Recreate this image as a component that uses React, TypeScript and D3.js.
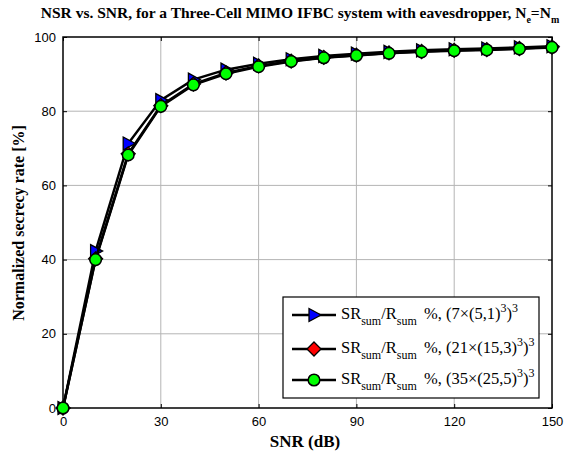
import React, { useRef, useEffect } from 'react';
import * as d3 from 'd3';

// SNR values (dB)
const snr = [0, 10, 20, 30, 40, 50, 60, 70, 80, 90, 100, 110, 120, 130, 140, 150];

// Normalized secrecy rate [%] for each configuration
const series7 = [0, 42.3, 71.3, 83.0, 88.5, 91.2, 92.8, 94.0, 94.9, 95.5, 96.0, 96.4, 96.7, 96.9, 97.2, 97.5];
const series21 = [0, 40.2, 68.5, 81.5, 87.3, 90.3, 92.2, 93.5, 94.5, 95.1, 95.7, 96.1, 96.4, 96.6, 96.9, 97.3];
const series35 = [0, 40.0, 68.2, 81.3, 87.1, 90.1, 92.0, 93.4, 94.4, 95.0, 95.6, 96.0, 96.3, 96.5, 96.8, 97.2];

const xTicks = [0, 30, 60, 90, 120, 150];
const yTicks = [0, 20, 40, 60, 80, 100];

const legendLabels = [
  { k: '7', a: '5,1' },
  { k: '21', a: '15,3' },
  { k: '35', a: '25,5' },
];

const serif = '"Liberation Serif", "Times New Roman", serif';

const App = () => {
  const svgRef = useRef<SVGSVGElement>(null);

  useEffect(() => {
    const W = 573, H = 452;
    const margin = { top: 37, right: 21, bottom: 44, left: 63 };
    const width = W - margin.left - margin.right;
    const height = H - margin.top - margin.bottom;

    const root = d3.select(svgRef.current);
    root.selectAll('*').remove();
    root.attr('width', W).attr('height', H);

    root.append('rect').attr('width', W).attr('height', H).attr('fill', '#fff');

    const svg = root.append('g').attr('transform', `translate(${margin.left},${margin.top})`);

    const x = d3.scaleLinear().domain([0, 150]).range([0, width]);
    const y = d3.scaleLinear().domain([0, 100]).range([height, 0]);

    // grid
    svg.append('g').selectAll('line')
      .data(xTicks.slice(1, -1))
      .enter().append('line')
      .attr('x1', d => x(d)).attr('x2', d => x(d))
      .attr('y1', 0).attr('y2', height)
      .attr('stroke', '#b4b4b4').attr('stroke-width', 1);
    svg.append('g').selectAll('line')
      .data(yTicks.slice(1, -1))
      .enter().append('line')
      .attr('y1', d => y(d)).attr('y2', d => y(d))
      .attr('x1', 0).attr('x2', width)
      .attr('stroke', '#b4b4b4').attr('stroke-width', 1);

    // axes with inward ticks on all sides
    const tickFont = '"Liberation Sans", Arial, sans-serif';
    const xAxis = svg.append('g').attr('transform', `translate(0,${height})`)
      .call(d3.axisBottom(x).tickValues(xTicks).tickSizeInner(-4).tickSizeOuter(0).tickPadding(9));
    const yAxis = svg.append('g')
      .call(d3.axisLeft(y).tickValues(yTicks).tickSizeInner(-4).tickSizeOuter(0).tickPadding(7));
    svg.append('g').call(d3.axisTop(x).tickValues(xTicks).tickSizeInner(-4).tickSizeOuter(0).tickFormat(() => ''));
    svg.append('g').attr('transform', `translate(${width},0)`)
      .call(d3.axisRight(y).tickValues(yTicks).tickSizeInner(-4).tickSizeOuter(0).tickFormat(() => ''));
    [xAxis, yAxis].forEach(a => a.selectAll('text')
      .style('font-family', tickFont).style('font-size', '13px').attr('fill', '#000'));
    svg.selectAll('.domain').remove();

    svg.append('rect').attr('width', width).attr('height', height)
      .attr('fill', 'none').attr('stroke', '#000').attr('stroke-width', 1.5);

    const line = d3.line<number>().x((_, i) => x(snr[i])).y(d => y(d));

    const tri = (g: any, cx: number, cy: number) => g.append('path')
      .attr('d', `M${cx - 5},${cy - 6.5}L${cx + 7},${cy}L${cx - 5},${cy + 6.5}Z`)
      .attr('fill', '#0000ff').attr('stroke', '#000').attr('stroke-width', 1.3);
    const dia = (g: any, cx: number, cy: number) => g.append('path')
      .attr('d', `M${cx},${cy - 7}L${cx + 7},${cy}L${cx},${cy + 7}L${cx - 7},${cy}Z`)
      .attr('fill', '#ff0000').attr('stroke', '#000').attr('stroke-width', 1.3);
    const circ = (g: any, cx: number, cy: number) => g.append('circle')
      .attr('cx', cx).attr('cy', cy).attr('r', 5.8)
      .attr('fill', '#00ff00').attr('stroke', '#000').attr('stroke-width', 1.5);

    const allSeries = [
      { data: series7, marker: tri },
      { data: series21, marker: dia },
      { data: series35, marker: circ },
    ];

    allSeries.forEach(s => {
      const g = svg.append('g');
      g.append('path').datum(s.data).attr('d', line)
        .attr('fill', 'none').attr('stroke', '#000').attr('stroke-width', 2.5);
      s.data.forEach((v, i) => s.marker(g, x(snr[i]), y(v)));
    });

    // legend
    const lx = 283 - margin.left, ly = 297 - margin.top;
    const lg = svg.append('g').attr('transform', `translate(${lx},${ly})`);
    lg.append('rect').attr('width', 256).attr('height', 101)
      .attr('fill', '#fff').attr('stroke', '#000').attr('stroke-width', 1.2);
    const rowsY = [18, 52, 83];
    const markers = [tri, dia, circ];
    legendLabels.forEach((lab, i) => {
      const ry = rowsY[i];
      lg.append('line').attr('x1', 9).attr('x2', 53).attr('y1', ry).attr('y2', ry)
        .attr('stroke', '#000').attr('stroke-width', 2.5);
      markers[i](lg, 31, ry);
      const t = lg.append('text').attr('x', 58).attr('y', ry + 4)
        .style('font-family', serif)
        .style('font-size', '16.5px').attr('fill', '#000');
      t.append('tspan').text('SR');
      t.append('tspan').attr('dy', 6).style('font-size', '12px').text('sum');
      t.append('tspan').attr('dy', -6).text('/R');
      t.append('tspan').attr('dy', 6).style('font-size', '12px').text('sum');
      t.append('tspan').attr('dy', -6).attr('dx', 3).text(` %, (${lab.k}\u00d7(${lab.a})`);
      t.append('tspan').attr('dy', -7).style('font-size', '12px').text('3');
      t.append('tspan').attr('dy', 7).text(')');
      t.append('tspan').attr('dy', -7).style('font-size', '12px').text('3');
    });

    // title
    const title = root.append('text').attr('x', 300).attr('y', 18).attr('text-anchor', 'middle')
      .style('font-family', serif)
      .style('font-size', '15.5px').style('font-weight', 'bold').attr('fill', '#000');
    title.append('tspan').text('NSR vs. SNR, for a Three-Cell MIMO IFBC system with eavesdropper, N');
    title.append('tspan').attr('dy', 5).style('font-size', '10px').text('e');
    title.append('tspan').attr('dy', -5).text('=N');
    title.append('tspan').attr('dy', 5).style('font-size', '10px').text('m');

    // axis labels
    root.append('text').attr('x', 305).attr('y', 447).attr('text-anchor', 'middle')
      .style('font-family', serif)
      .style('font-size', '17px').style('font-weight', 'bold').attr('fill', '#000')
      .text('SNR (dB)');
    root.append('text')
      .attr('transform', 'translate(24,223) rotate(-90)').attr('text-anchor', 'middle')
      .style('font-family', serif)
      .style('font-size', '16px').style('font-weight', 'bold').attr('fill', '#000')
      .text('Normalized secrecy rate [%]');
  }, []);

  return <svg ref={svgRef} style={{ position: 'absolute', left: 0, top: 0 }} />;
};

export default App;
